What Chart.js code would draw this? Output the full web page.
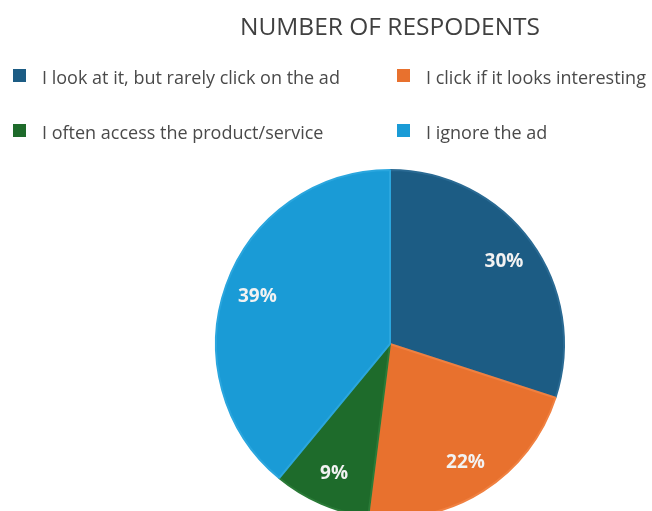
<!DOCTYPE html>
<html>
<head>
<meta charset="utf-8">
<script src="https://cdn.jsdelivr.net/npm/chart.js@4.4.1/dist/chart.umd.min.js"></script>
<style>
  html, body { margin: 0; padding: 0; background: #fff; overflow: hidden; }
  #wrap { position: relative; width: 652px; height: 511px; }
</style>
</head>
<body>
<div id="wrap"><canvas id="pie-chart" width="652" height="511"></canvas></div>
<script>
// Survey answers and their shares
const answers = [
  "I look at it, but rarely click on the ad",
  "I click if it looks interesting",
  "I often access the product/service",
  "I ignore the ad"
];
const shares = [30, 22, 9, 39];
const sliceColors = ["#1c5c84", "#e8712e", "#1e6b2b", "#1a9bd6"];
const edgeColors = ["#2a6a93", "#f08040", "#2a7a37", "#2aa6de"];

// legend laid out as a 2x2 grid under the title
const legendGrid = {
  id: "legendGrid",
  afterDraw(chart) {
    const ctx = chart.ctx;
    const cols = [13, 397];
    const rows = [84, 139];
    ctx.save();
    ctx.font = "18px 'Open Sans', sans-serif";
    ctx.textBaseline = "alphabetic";
    answers.forEach((label, i) => {
      const x = cols[i % 2];
      const y = rows[Math.floor(i / 2)];
      ctx.fillStyle = sliceColors[i];
      ctx.fillRect(x, y - 15, 13, 13);
      ctx.fillStyle = "#4a4a4a";
      ctx.fillText(label, x + 29, y);
    });
    ctx.restore();
  }
};

// percentage labels placed inside each slice
const sliceLabels = {
  id: "sliceLabels",
  afterDatasetsDraw(chart) {
    const ctx = chart.ctx;
    const data = chart.data.datasets[0].data;
    const total = data.reduce((a, b) => a + b, 0);
    ctx.save();
    ctx.font = "bold 19px 'Open Sans', sans-serif";
    ctx.fillStyle = "#f2f2f2";
    ctx.textAlign = "center";
    ctx.textBaseline = "middle";
    chart.getDatasetMeta(0).data.forEach((arc, i) => {
      const mid = (arc.startAngle + arc.endAngle) / 2;
      const r = arc.outerRadius * 0.81;
      const x = arc.x + Math.cos(mid) * r;
      const y = arc.y + Math.sin(mid) * r;
      ctx.fillText(Math.round(data[i] / total * 100) + "%", x, y);
    });
    ctx.restore();
  }
};

const canvas = document.getElementById("pie-chart");

const chart = new Chart(canvas, {
  type: "pie",
  data: {
    labels: answers,
    datasets: [{
      data: shares,
      backgroundColor: sliceColors,
      borderColor: edgeColors,
      borderWidth: 2,
      radius: 174
    }]
  },
  options: {
    responsive: false,
    animation: false,
    layout: {
      padding: { top: 0, left: 128, right: 0, bottom: 0 }
    },
    plugins: {
      title: {
        display: true,
        text: "NUMBER OF RESPODENTS",
        color: "#404040",
        font: { family: "'Open Sans', sans-serif", size: 24.5, weight: "normal" },
        padding: { top: 13.5, bottom: 134 }
      },
      legend: { display: false },
      tooltip: { enabled: false }
    }
  },
  plugins: [legendGrid, sliceLabels]
});
</script>
</body>
</html>
